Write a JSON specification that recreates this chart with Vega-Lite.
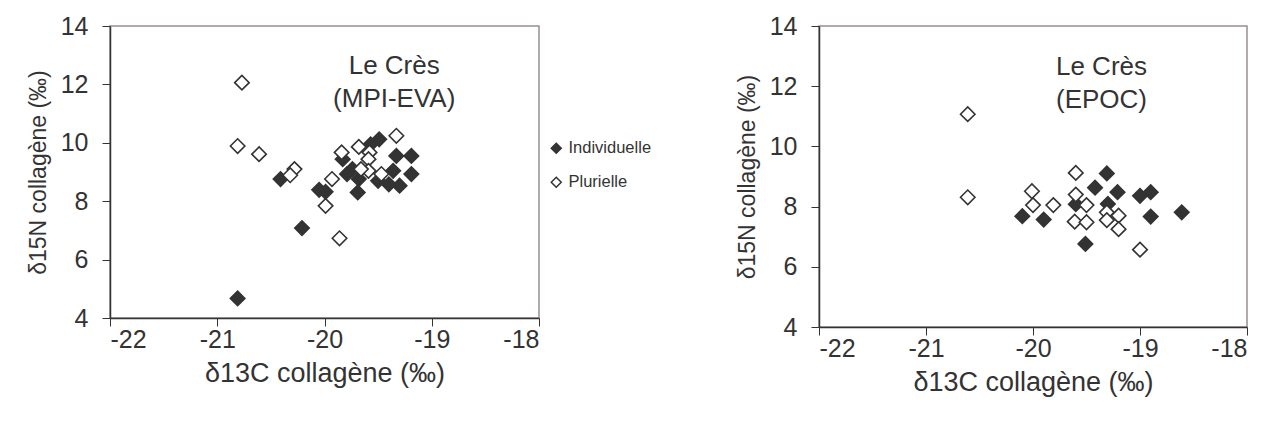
{
  "$schema": "https://vega.github.io/schema/vega-lite/v6.json",
  "background": "white",
  "padding": {"left": 26, "top": 13, "right": 5, "bottom": 5},
  "bounds": "flush",
  "spacing": 280,
  "config": {
    "font": "Liberation Sans",
    "view": {"stroke": "#998f8f", "strokeWidth": 1.5},
    "axis": {
      "grid": false,
      "labelFontSize": 25,
      "titleFontSize": 23,
      "labelColor": "#333333",
      "titleColor": "#333333",
      "titleFontWeight": "normal",
      "domainColor": "#333333",
      "domainWidth": 1.5,
      "tickColor": "#333333",
      "tickWidth": 1,
      "tickSize": 8
    },
    "axisY": {"labelPadding": 14, "titlePadding": 10},
    "axisX": {"labelPadding": 1, "titlePadding": 8, "titleFontSize": 27}
  },
  "datasets": {
    "pts": [
      {"panel": "MPI", "type": "Individuelle", "d13C": -20.81, "d15N": 4.67},
      {"panel": "MPI", "type": "Individuelle", "d13C": -20.21, "d15N": 7.08},
      {"panel": "MPI", "type": "Individuelle", "d13C": -20.41, "d15N": 8.76},
      {"panel": "MPI", "type": "Individuelle", "d13C": -20.05, "d15N": 8.39},
      {"panel": "MPI", "type": "Individuelle", "d13C": -19.99, "d15N": 8.32},
      {"panel": "MPI", "type": "Individuelle", "d13C": -19.83, "d15N": 9.44},
      {"panel": "MPI", "type": "Individuelle", "d13C": -19.79, "d15N": 8.93},
      {"panel": "MPI", "type": "Individuelle", "d13C": -19.74, "d15N": 9.1},
      {"panel": "MPI", "type": "Individuelle", "d13C": -19.69, "d15N": 8.3},
      {"panel": "MPI", "type": "Individuelle", "d13C": -19.68, "d15N": 8.76},
      {"panel": "MPI", "type": "Individuelle", "d13C": -19.49, "d15N": 10.12},
      {"panel": "MPI", "type": "Individuelle", "d13C": -19.57, "d15N": 9.95},
      {"panel": "MPI", "type": "Individuelle", "d13C": -19.5, "d15N": 8.7},
      {"panel": "MPI", "type": "Individuelle", "d13C": -19.4, "d15N": 8.58},
      {"panel": "MPI", "type": "Individuelle", "d13C": -19.36, "d15N": 9.04},
      {"panel": "MPI", "type": "Individuelle", "d13C": -19.33, "d15N": 9.55},
      {"panel": "MPI", "type": "Individuelle", "d13C": -19.3, "d15N": 8.53},
      {"panel": "MPI", "type": "Individuelle", "d13C": -19.19, "d15N": 9.55},
      {"panel": "MPI", "type": "Individuelle", "d13C": -19.19, "d15N": 8.93},
      {"panel": "MPI", "type": "Plurielle", "d13C": -20.77, "d15N": 12.06},
      {"panel": "MPI", "type": "Plurielle", "d13C": -20.81, "d15N": 9.89},
      {"panel": "MPI", "type": "Plurielle", "d13C": -20.61, "d15N": 9.61},
      {"panel": "MPI", "type": "Plurielle", "d13C": -20.28, "d15N": 9.1},
      {"panel": "MPI", "type": "Plurielle", "d13C": -20.32, "d15N": 8.89},
      {"panel": "MPI", "type": "Plurielle", "d13C": -19.93, "d15N": 8.76},
      {"panel": "MPI", "type": "Plurielle", "d13C": -19.99, "d15N": 7.84},
      {"panel": "MPI", "type": "Plurielle", "d13C": -19.86, "d15N": 6.73},
      {"panel": "MPI", "type": "Plurielle", "d13C": -19.84, "d15N": 9.67},
      {"panel": "MPI", "type": "Plurielle", "d13C": -19.68, "d15N": 9.86},
      {"panel": "MPI", "type": "Plurielle", "d13C": -19.58, "d15N": 9.67},
      {"panel": "MPI", "type": "Plurielle", "d13C": -19.59, "d15N": 9.44},
      {"panel": "MPI", "type": "Plurielle", "d13C": -19.59, "d15N": 9.04},
      {"panel": "MPI", "type": "Plurielle", "d13C": -19.66, "d15N": 9.1},
      {"panel": "MPI", "type": "Plurielle", "d13C": -19.33, "d15N": 10.24},
      {"panel": "MPI", "type": "Plurielle", "d13C": -19.47, "d15N": 8.93},
      {"panel": "EPOC", "type": "Individuelle", "d13C": -20.1, "d15N": 7.68},
      {"panel": "EPOC", "type": "Individuelle", "d13C": -19.9, "d15N": 7.57},
      {"panel": "EPOC", "type": "Individuelle", "d13C": -19.6, "d15N": 8.08},
      {"panel": "EPOC", "type": "Individuelle", "d13C": -19.51, "d15N": 6.76},
      {"panel": "EPOC", "type": "Individuelle", "d13C": -19.42, "d15N": 8.63},
      {"panel": "EPOC", "type": "Individuelle", "d13C": -19.31, "d15N": 9.1},
      {"panel": "EPOC", "type": "Individuelle", "d13C": -19.3, "d15N": 8.09},
      {"panel": "EPOC", "type": "Individuelle", "d13C": -19.21, "d15N": 8.48},
      {"panel": "EPOC", "type": "Individuelle", "d13C": -19.0, "d15N": 8.36},
      {"panel": "EPOC", "type": "Individuelle", "d13C": -18.9, "d15N": 8.48},
      {"panel": "EPOC", "type": "Individuelle", "d13C": -18.9, "d15N": 7.67},
      {"panel": "EPOC", "type": "Individuelle", "d13C": -18.61, "d15N": 7.81},
      {"panel": "EPOC", "type": "Plurielle", "d13C": -20.61, "d15N": 11.07},
      {"panel": "EPOC", "type": "Plurielle", "d13C": -20.61, "d15N": 8.31},
      {"panel": "EPOC", "type": "Plurielle", "d13C": -20.01, "d15N": 8.51},
      {"panel": "EPOC", "type": "Plurielle", "d13C": -20.0, "d15N": 8.05},
      {"panel": "EPOC", "type": "Plurielle", "d13C": -19.81, "d15N": 8.05},
      {"panel": "EPOC", "type": "Plurielle", "d13C": -19.6, "d15N": 9.12},
      {"panel": "EPOC", "type": "Plurielle", "d13C": -19.6, "d15N": 8.4},
      {"panel": "EPOC", "type": "Plurielle", "d13C": -19.5, "d15N": 8.05},
      {"panel": "EPOC", "type": "Plurielle", "d13C": -19.61, "d15N": 7.5},
      {"panel": "EPOC", "type": "Plurielle", "d13C": -19.5, "d15N": 7.48},
      {"panel": "EPOC", "type": "Plurielle", "d13C": -19.31, "d15N": 7.81},
      {"panel": "EPOC", "type": "Plurielle", "d13C": -19.31, "d15N": 7.55},
      {"panel": "EPOC", "type": "Plurielle", "d13C": -19.2, "d15N": 7.7},
      {"panel": "EPOC", "type": "Plurielle", "d13C": -19.2, "d15N": 7.25},
      {"panel": "EPOC", "type": "Plurielle", "d13C": -19.0, "d15N": 6.57}
    ],
    "notes": [
      {"panel": "MPI", "label": "Le Crès\n(MPI-EVA)", "d13C": -19.35, "d15N": 12.63},
      {"panel": "EPOC", "label": "Le Crès\n(EPOC)", "d13C": -19.36, "d15N": 12.64}
    ]
  },
  "hconcat": [
    {
      "width": 429,
      "height": 292,
      "layer": [
        {
          "data": {"name": "pts"},
          "transform": [{"filter": "datum.panel === 'MPI'"}],
          "mark": {"type": "point", "shape": "diamond", "filled": true, "size": 210, "stroke": "#333333", "strokeWidth": 1.6, "opacity": 1},
          "encoding": {
            "x": {"field": "d13C", "type": "quantitative", "scale": {"domain": [-22, -18], "nice": false, "zero": false}, "axis": {"values": [-22, -21, -20, -19, -18], "labelExpr": "'' + datum.value", "title": "δ13C collagène (‰)"}},
            "y": {"field": "d15N", "type": "quantitative", "scale": {"domain": [4, 14], "nice": false, "zero": false}, "axis": {"values": [4, 6, 8, 10, 12, 14], "title": "δ15N collagène (‰)"}},
            "fill": {"field": "type", "type": "nominal", "scale": {"domain": ["Individuelle", "Plurielle"], "range": ["#333333", "#ffffff"]},
              "legend": {"title": null, "orient": "none", "legendX": 438, "legendY": 114, "symbolType": "diamond", "symbolSize": 100, "symbolStrokeColor": "#333333", "symbolStrokeWidth": 1.5, "labelFontSize": 16.5, "labelColor": "#333333", "rowPadding": 17, "labelOffset": 4}}
          }
        },
        {
          "data": {"name": "notes"},
          "transform": [{"filter": "datum.panel === 'MPI'"}],
          "mark": {"type": "text", "fontSize": 26, "color": "#333333", "lineBreak": "\n", "lineHeight": 33, "align": "center", "baseline": "middle"},
          "encoding": {
            "x": {"field": "d13C", "type": "quantitative"},
            "y": {"field": "d15N", "type": "quantitative"},
            "text": {"field": "label"}
          }
        }
      ]
    },
    {
      "width": 428,
      "height": 301,
      "layer": [
        {
          "data": {"name": "pts"},
          "transform": [{"filter": "datum.panel === 'EPOC'"}],
          "mark": {"type": "point", "shape": "diamond", "filled": true, "size": 210, "stroke": "#333333", "strokeWidth": 1.6, "opacity": 1},
          "encoding": {
            "x": {"field": "d13C", "type": "quantitative", "scale": {"domain": [-22, -18], "nice": false, "zero": false}, "axis": {"values": [-22, -21, -20, -19, -18], "labelExpr": "'' + datum.value", "title": "δ13C collagène (‰)"}},
            "y": {"field": "d15N", "type": "quantitative", "scale": {"domain": [4, 14], "nice": false, "zero": false}, "axis": {"values": [4, 6, 8, 10, 12, 14], "title": "δ15N collagène (‰)"}},
            "fill": {"field": "type", "type": "nominal", "scale": {"domain": ["Individuelle", "Plurielle"], "range": ["#333333", "#ffffff"]}, "legend": null}
          }
        },
        {
          "data": {"name": "notes"},
          "transform": [{"filter": "datum.panel === 'EPOC'"}],
          "mark": {"type": "text", "fontSize": 26, "color": "#333333", "lineBreak": "\n", "lineHeight": 33, "align": "center", "baseline": "middle"},
          "encoding": {
            "x": {"field": "d13C", "type": "quantitative"},
            "y": {"field": "d15N", "type": "quantitative"},
            "text": {"field": "label"}
          }
        }
      ]
    }
  ]
}
